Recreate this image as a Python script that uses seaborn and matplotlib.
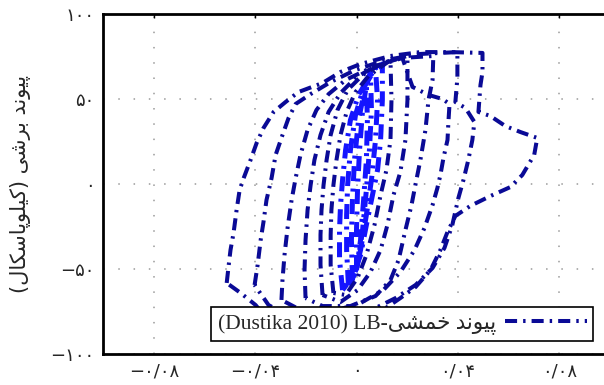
import numpy as np
import pandas as pd
import matplotlib
matplotlib.use("Agg")
import matplotlib.pyplot as plt
from matplotlib.lines import Line2D
import seaborn as sns

# Hysteresis loops (rotation, shear force in kPa)
loop1 = [(-0.0512, -58.2), (-0.0504, -47.6), (-0.0497, -38.8), (-0.0485, -28.8), (-0.0473, -15.3),
         (-0.0461, -3.5), (-0.0445, 3.5), (-0.0418, 14.1), (-0.0394, 24.1), (-0.0367, 32.9),
         (-0.0327, 42.4), (-0.0280, 48.2), (-0.0229, 54.1), (-0.0134, 59.4), (-0.0063, 65.9),
         (0.0016, 70.6), (0.0134, 75.3), (0.0252, 77.6), (0.0370, 77.6), (0.0497, 77.1),
         (0.0497, 65.9), (0.0489, 58.2), (0.0481, 42.4), (0.0528, 40.0), (0.0587, 34.1),
         (0.0646, 30.6), (0.0713, 27.1), (0.0701, 17.1), (0.0654, 5.3), (0.0607, -1.8),
         (0.0528, -7.1), (0.0449, -12.9), (0.0390, -18.8), (0.0359, -28.2), (0.0331, -38.8),
         (0.0292, -50.6), (0.0233, -60.6), (0.0173, -67.1), (0.0075, -77.1), (-0.0063, -84.0),
         (-0.0221, -86.0), (-0.0339, -82.0), (-0.0398, -71.2), (-0.0457, -64.1)]
loop2 = [(-0.0402, -59.4), (-0.0390, -47.6), (-0.0378, -32.9), (-0.0367, -22.4), (-0.0355, -9.4),
         (-0.0335, 3.5), (-0.0319, 17.1), (-0.0292, 28.8), (-0.0268, 38.8), (-0.0240, 47.1),
         (-0.0181, 52.9), (-0.0102, 60.0), (-0.0004, 67.1), (0.0114, 72.9), (0.0252, 76.5),
         (0.0398, 77.6), (0.0398, 62.4), (0.0390, 48.2), (0.0430, 44.7), (0.0465, 36.5),
         (0.0457, 25.9), (0.0441, 14.1), (0.0422, 2.4), (0.0402, -8.2), (0.0378, -24.1),
         (0.0347, -37.6), (0.0300, -49.4), (0.0233, -59.4), (0.0154, -67.1), (0.0035, -75.9),
         (-0.0102, -81.2), (-0.0240, -80.0), (-0.0347, -71.2)]
loop3 = [(-0.0296, -68.2), (-0.0292, -56.5), (-0.0284, -41.8), (-0.0272, -25.9), (-0.0256, -9.4),
         (-0.0240, 3.5), (-0.0221, 17.1), (-0.0193, 31.8), (-0.0158, 43.5), (-0.0110, 52.9),
         (-0.0043, 61.2), (0.0055, 68.2), (0.0154, 72.9), (0.0181, 74.1), (0.0221, 57.1),
         (0.0284, 52.4), (0.0339, 50.0), (0.0367, 47.1), (0.0363, 37.6), (0.0359, 25.9),
         (0.0343, 15.3), (0.0331, 5.3), (0.0319, -2.4), (0.0300, -12.4), (0.0268, -25.9),
         (0.0229, -38.8), (0.0173, -51.8), (0.0106, -62.4), (0.0016, -70.0), (-0.0102, -75.3),
         (-0.0221, -74.1)]
loop4 = [(-0.0201, -67.1), (-0.0205, -50.6), (-0.0201, -32.9), (-0.0193, -15.3), (-0.0181, -0.6),
         (-0.0166, 14.1), (-0.0142, 28.8), (-0.0110, 42.4), (-0.0063, 53.5), (-0.0004, 62.4),
         (0.0075, 69.4), (0.0173, 74.1), (0.0303, 75.3), (0.0300, 61.2), (0.0284, 49.4),
         (0.0272, 31.8), (0.0252, 14.1), (0.0233, 0.0), (0.0217, -12.4), (0.0193, -27.1),
         (0.0166, -44.7), (0.0134, -56.5), (0.0075, -65.9), (-0.0024, -71.8), (-0.0134, -71.8)]
loop5 = [(-0.0134, -65.3), (-0.0142, -47.6), (-0.0142, -30.0), (-0.0138, -15.3), (-0.0130, -0.6),
         (-0.0118, 14.1), (-0.0102, 28.8), (-0.0075, 43.5), (-0.0035, 55.3), (0.0024, 64.1),
         (0.0102, 71.2), (0.0201, 75.3), (0.0201, 49.4), (0.0193, 25.9), (0.0173, 7.1),
         (0.0146, -6.5), (0.0122, -24.1), (0.0095, -38.8), (0.0055, -51.8), (0.0004, -62.4),
         (-0.0063, -69.4)]
loop6 = [(-0.0091, -64.1), (-0.0102, -47.6), (-0.0102, -30.0), (-0.0099, -15.3), (-0.0091, -0.6),
         (-0.0079, 14.1), (-0.0063, 28.8), (-0.0039, 42.4), (-0.0004, 54.1), (0.0047, 63.5),
         (0.0134, 72.9), (0.0138, 49.4), (0.0134, 25.9), (0.0118, 8.2), (0.0095, -6.5),
         (0.0071, -24.1), (0.0039, -41.8), (0.0004, -55.3), (-0.0043, -65.3)]
loop7 = [(-0.0055, -62.4), (-0.0067, -44.7), (-0.0067, -27.1), (-0.0063, -12.4), (-0.0055, 2.4),
         (-0.0043, 20.0), (-0.0024, 37.6), (0.0008, 52.4), (0.0055, 64.1), (0.0102, 70.6),
         (0.0102, 49.4), (0.0095, 25.9), (0.0083, 8.2), (0.0063, -6.5), (0.0039, -24.1),
         (0.0016, -41.8), (-0.0016, -54.7)]
loop8 = [(-0.0032, -59.4), (-0.0039, -38.8), (-0.0039, -18.2), (-0.0035, -0.6), (-0.0024, 20.0),
         (-0.0004, 40.6), (0.0028, 56.5), (0.0075, 68.2), (0.0083, 49.4), (0.0075, 25.9),
         (0.0059, 2.4), (0.0039, -18.2), (0.0016, -38.8), (-0.0008, -53.5)]
loop9 = [(-0.0016, -56.5), (-0.0020, -32.9), (-0.0016, -9.4), (-0.0008, 14.1), (0.0008, 37.6),
         (0.0032, 55.3), (0.0055, 65.9), (0.0059, 43.5), (0.0051, 20.0), (0.0039, -3.5),
         (0.0024, -27.1), (0.0004, -47.6)]
loop10 = [(0.0000, -50.6), (0.0000, -27.1), (0.0004, -3.5), (0.0012, 20.0), (0.0024, 43.5),
          (0.0039, 58.2), (0.0043, 37.6), (0.0039, 14.1), (0.0028, -9.4), (0.0016, -32.9)]

outer_loops = [loop1, loop2, loop3, loop4, loop5, loop6]
inner_loops = [loop7, loop8, loop9, loop10]

x_ticks = [-0.08, -0.04, 0, 0.04, 0.08]
x_tick_labels = ["−۰/۰۸", "−۰/۰۴", "۰", "۰/۰۴", "۰/۰۸"]
y_ticks = [-100, -50, 0, 50, 100]
y_tick_labels = ["−۱۰۰", "−۵۰", "۰", "۵۰", "۱۰۰"]

# Persian text in visual order with contextual forms (matplotlib has no shaping)
# "پیوند برشی (کیلوپاسکال)"
y_label = ("(\uFEDD\uFE8E\uFB91\uFEB3\uFE8E\uFB58\uFEEE\uFEE0\uFBFF\uFB90) "
           "\uFBFD\uFEB7\uFEAE\uFE91 \uFEAA\uFEE7\uFEEE\uFBFF\uFB58")
# "پیوند خمشی-LB (Dustika 2010)"
legend_label = "(Dustika 2010) LB-\uFBFD\uFEB8\uFEE4\uFEA7 \uFEAA\uFEE7\uFEEE\uFBFF\uFB58"


def to_frame(loops):
    parts = []
    for i, pts in enumerate(loops):
        d = pd.DataFrame(pts, columns=["rot", "shear"])
        d = pd.concat([d, d.iloc[:1]], ignore_index=True)  # close the loop
        d["loop"] = i
        parts.append(d)
    return pd.concat(parts, ignore_index=True)


outer_df = to_frame(outer_loops)
inner_df = to_frame(inner_loops)

sns.set_theme(style="white")
plt.rcParams["font.family"] = ["Liberation Serif", "DejaVu Sans"]

fig = plt.figure(figsize=(6.04, 3.85), dpi=100)
ax = fig.add_axes([103 / 604, 1 - 354 / 385, 507 / 604, 340 / 385])

dash = (0, (3, 1.5, 0.6, 1.5))
sns.lineplot(data=inner_df, x="rot", y="shear", units="loop", estimator=None, sort=False,
             color="#1414ff", lw=3.6, linestyle=dash, ax=ax)
sns.lineplot(data=outer_df, x="rot", y="shear", units="loop", estimator=None, sort=False,
             color="#0a0a96", lw=2.9, linestyle=dash, ax=ax)

ax.set_xlim(-0.1, 0.1)
ax.set_ylim(-100, 100)
ax.set_xticks(x_ticks)
ax.set_xticklabels(x_tick_labels, family=["DejaVu Sans"], fontsize=13)
ax.set_yticks(y_ticks)
ax.set_yticklabels(y_tick_labels, family=["DejaVu Sans"], fontsize=13)
ax.set_xlabel("")
ax.set_ylabel(y_label, family=["DejaVu Sans"], fontsize=15, labelpad=14)
ax.tick_params(direction="in", length=3, width=1, top=True, right=True, color="black", pad=6)
ax.grid(True, color="#9a9a9a", linestyle=(0, (1, 9)), linewidth=1.1)
for s in ax.spines.values():
    s.set_color("black")
    s.set_linewidth(2)

handle = Line2D([], [], color="#0a0a96", lw=2.9, linestyle=dash)
leg = ax.legend([handle], [legend_label], loc="lower right",
                bbox_to_anchor=((593 - 103) / 507, 13 / 340),
                markerfirst=False, fancybox=False, framealpha=1, edgecolor="black",
                prop={"family": ["Liberation Serif", "DejaVu Sans"], "size": 15.5},
                handlelength=3.8, handletextpad=0.4, borderpad=0.3, borderaxespad=0)
leg.get_frame().set_linewidth(1.2)

fig.savefig("out.png", dpi=100)
